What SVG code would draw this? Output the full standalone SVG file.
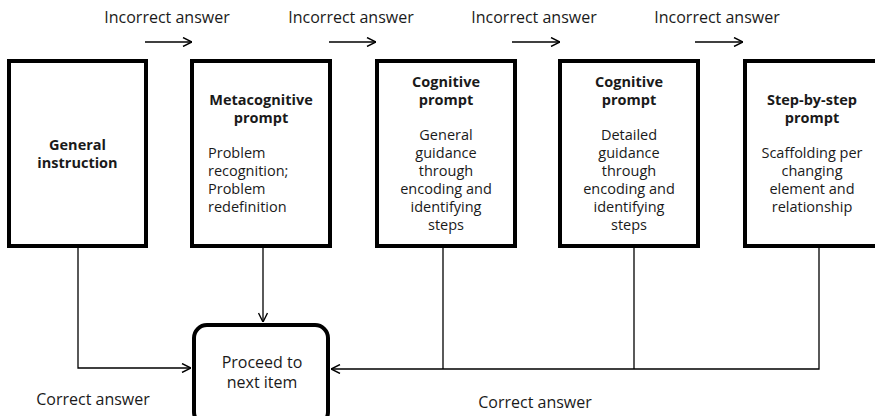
<svg xmlns="http://www.w3.org/2000/svg" width="875" height="416" viewBox="0 0 875 416">
<style>
text{font-family:"Open Sans","Liberation Sans",sans-serif;fill:#1a1a1a}
.lbl{font-size:16px}
.t{font-size:14.5px}
.b{font-weight:bold}
.box{fill:#fff;stroke:#000;stroke-width:4}
.ln{stroke:#000;stroke-width:1.3;fill:none}
</style>
<defs>
<marker id="ah" viewBox="0 0 10 10" refX="10" refY="5" markerWidth="10" markerHeight="10" markerUnits="userSpaceOnUse" orient="auto">
<path d="M1,0.5 L10,5 L1,9.5" fill="none" stroke="#000" stroke-width="1.4"/>
</marker>
</defs>
<rect width="875" height="416" fill="#fff"/>
<g id="connectors">
<line class="ln" x1="145" y1="42" x2="192" y2="42" marker-end="url(#ah)"/>
<line class="ln" x1="329" y1="42" x2="376" y2="42" marker-end="url(#ah)"/>
<line class="ln" x1="512" y1="42" x2="560" y2="42" marker-end="url(#ah)"/>
<line class="ln" x1="695" y1="42" x2="743" y2="42" marker-end="url(#ah)"/>
<polyline class="ln" points="78,248 78,368 191,368" marker-end="url(#ah)"/>
<line class="ln" x1="263" y1="248" x2="263" y2="322" marker-end="url(#ah)"/>
<polyline class="ln" points="443,248 443,369"/>
<polyline class="ln" points="634,248 634,369"/>
<polyline class="ln" points="819,248 819,369 331,369" marker-end="url(#ah)"/>
</g>
<g id="labels">
<text class="lbl" x="167" y="23" text-anchor="middle">Incorrect answer</text>
<text class="lbl" x="351" y="23" text-anchor="middle">Incorrect answer</text>
<text class="lbl" x="534" y="23" text-anchor="middle">Incorrect answer</text>
<text class="lbl" x="717" y="23" text-anchor="middle">Incorrect answer</text>
<text class="lbl" x="93" y="405" text-anchor="middle">Correct answer</text>
<text class="lbl" x="535" y="408" text-anchor="middle">Correct answer</text>
</g>
<g id="general-instruction">
<rect class="box" x="9" y="61" width="137" height="185"/>
<text class="t b" text-anchor="middle"><tspan x="77.5" y="150">General</tspan><tspan x="77.5" y="168">instruction</tspan></text>
</g>
<g id="metacognitive-prompt">
<rect class="box" x="192" y="61" width="138" height="185"/>
<text class="t b" text-anchor="middle"><tspan x="261" y="105">Metacognitive</tspan><tspan x="261" y="123">prompt</tspan></text>
<text class="t"><tspan x="208" y="158">Problem</tspan><tspan x="208" y="176">recognition;</tspan><tspan x="208" y="194">Problem</tspan><tspan x="208" y="212">redefinition</tspan></text>
</g>
<g id="cognitive-prompt-general">
<rect class="box" x="377" y="61" width="138" height="185"/>
<text class="t b" text-anchor="middle"><tspan x="446" y="87">Cognitive</tspan><tspan x="446" y="105">prompt</tspan></text>
<text class="t" text-anchor="middle"><tspan x="446" y="140">General</tspan><tspan x="446" y="158">guidance</tspan><tspan x="446" y="176">through</tspan><tspan x="446" y="194">encoding and</tspan><tspan x="446" y="212">identifying</tspan><tspan x="446" y="230">steps</tspan></text>
</g>
<g id="cognitive-prompt-detailed">
<rect class="box" x="560" y="61" width="138" height="185"/>
<text class="t b" text-anchor="middle"><tspan x="629" y="87">Cognitive</tspan><tspan x="629" y="105">prompt</tspan></text>
<text class="t" text-anchor="middle"><tspan x="629" y="140">Detailed</tspan><tspan x="629" y="158">guidance</tspan><tspan x="629" y="176">through</tspan><tspan x="629" y="194">encoding and</tspan><tspan x="629" y="212">identifying</tspan><tspan x="629" y="230">steps</tspan></text>
</g>
<g id="step-by-step-prompt">
<rect class="box" x="745" y="61" width="134" height="185"/>
<text class="t b" text-anchor="middle"><tspan x="812" y="105">Step-by-step</tspan><tspan x="812" y="123">prompt</tspan></text>
<text class="t" text-anchor="middle"><tspan x="812" y="158">Scaffolding per</tspan><tspan x="812" y="176">changing</tspan><tspan x="812" y="194">element and</tspan><tspan x="812" y="212">relationship</tspan></text>
</g>
<g id="proceed">
<rect class="box" x="194" y="325" width="134" height="100" rx="13"/>
<text class="lbl" text-anchor="middle"><tspan x="262" y="368">Proceed to</tspan><tspan x="262" y="388">next item</tspan></text>
</g>
</svg>
